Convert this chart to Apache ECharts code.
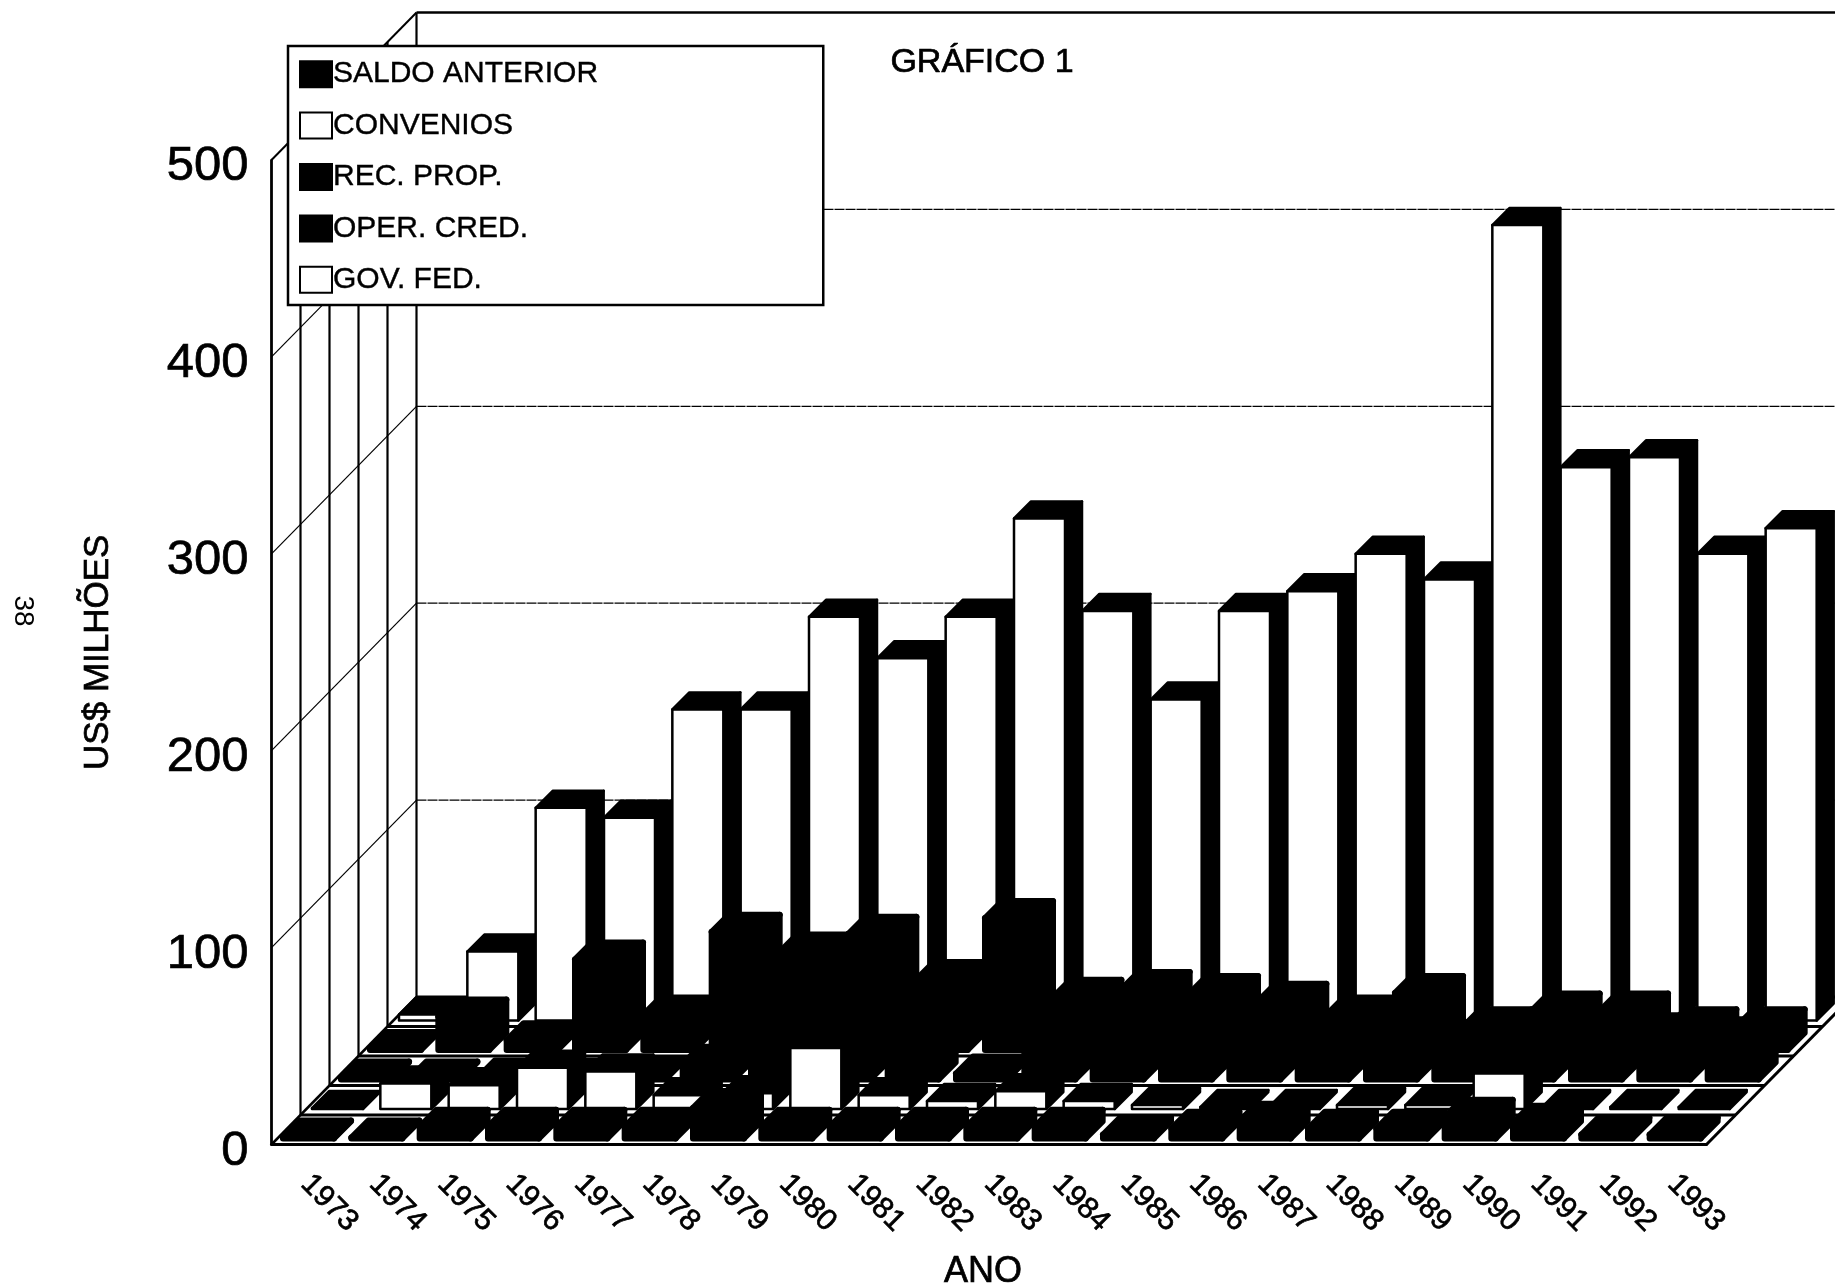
<!DOCTYPE html>
<html>
<head>
<meta charset="utf-8">
<style>
  html, body { margin: 0; padding: 0; background: #fff; }
  #chart { width: 1835px; height: 1286px; }
</style>
<script src="https://cdn.jsdelivr.net/npm/echarts@6/dist/echarts.min.js"></script>
</head>
<body>
<div id="chart"></div>
<script>
const years = ['1973','1974','1975','1976','1977','1978','1979','1980','1981','1982','1983','1984','1985','1986','1987','1988','1989','1990','1991','1992','1993']
const yTicks = [100, 200, 300, 400, 500]

// front row to back row
const saldoAnterior = [0.5,0.5,6,6,6,6,15.5,6,6,6,6,6,2,5,9,5,5,11,8,2,2]
const convenios = [0.5,13,12,21,19,7,8,31,7,4,9,4,2,1,1,2,2,18,1,1,1]
const recProp = [0.5,0.5,1,1,2,8,30,28,30,3,22,25,22,22,20,22,18,20,22,24,22]
const operCred = [0.5,17,5,46,18,60,50,59,36,67,27,31,29,25,18,29,12,20,20,12,12]
const govFed = [3,35,108,103,158,158,205,184,205,255,208,163,208,218,237,224,404,281,286,237,250]

const rows = [
  { name: 'SALDO ANTERIOR', data: saldoAnterior, face: '#000' },
  { name: 'CONVENIOS', data: convenios, face: '#fff' },
  { name: 'REC. PROP.', data: recProp, face: '#000' },
  { name: 'OPER. CRED.', data: operCred, face: '#000' },
  { name: 'GOV. FED.', data: govFed, face: '#fff' }
]

// 3d look: each row is shifted up and right by this much
const rowDX = 29
const rowDY = 29.5
const barDepth = 17
const barInset = 6
const faceWidth = 51
const faceGap = 5.5

const poly = (points, fill, lineWidth) => ({
  type: 'polygon',
  shape: { points },
  style: { fill, stroke: '#000', lineWidth, lineJoin: 'round' }
})
const seg = (x1, y1, x2, y2, lineWidth, dash) => ({
  type: 'line',
  shape: { x1, y1, x2, y2 },
  style: { stroke: '#000', lineWidth, lineDash: dash || null }
})

const renderBar = (rowIndex, face) => (params, api) => {
  const band = api.size([1, 0])[0]
  const base = api.coord([api.value(0), 0])
  const top = api.coord([api.value(0), api.value(1)])
  const x0 = base[0] - band / 2 + faceGap + rowIndex * rowDX + barInset
  const x1 = x0 + faceWidth
  const yb = base[1] - rowIndex * rowDY - barInset
  const yt = top[1] - rowIndex * rowDY - barInset
  // scanned print: ink spreads over the small white corners of the dark bars
  const ink = face === '#000' ? 6 : 2.5
  return {
    type: 'group',
    children: [
      poly([[x1, yb], [x1 + barDepth, yb - barDepth], [x1 + barDepth, yt - barDepth], [x1, yt]], '#000', ink),
      poly([[x0, yt], [x1, yt], [x1 + barDepth, yt - barDepth], [x0 + barDepth, yt - barDepth]], '#000', ink),
      poly([[x0, yb], [x1, yb], [x1, yt], [x0, yt]], face, ink)
    ]
  }
}

// left wall, back wall and floor lines
const renderWalls = (params, api) => {
  const band = api.size([1, 0])[0]
  const depthX = rowDX * rows.length
  const depthY = rowDY * rows.length
  const left = api.coord([0, api.value(0)])
  const xl = left[0] - band / 2
  const xr = api.coord([years.length - 1, 0])[0] + band / 2
  const y = left[1]
  const isTop = api.value(0) === 500
  const children = [
    seg(xl, y, xl + depthX, y - depthY, isTop ? 2 : 1.2),
    seg(xl + depthX, y - depthY, xr + depthX, y - depthY, isTop ? 2.5 : 1.2, isTop ? null : [10, 1])
  ]
  if (isTop) {
    const y0 = api.coord([0, 0])[1]
    for (let r = 0; r <= rows.length; r++) {
      const dx = r * rowDX
      const dy = r * rowDY
      children.push(seg(xl + dx, y0 - dy, xl + dx, y - dy, 2.2))
      if (r > 0) children.push(seg(xl + dx, y0 - dy, xr + dx, y0 - dy, 3))
    }
    children.push(seg(xl, y0, xl + depthX, y0 - depthY, 2.5))
    children.push(seg(xr, y0, xr + depthX, y0 - depthY, 3))
  }
  return { type: 'group', children }
}

const barSeries = rows.map((row, i) => ({
  name: row.name,
  type: 'custom',
  coordinateSystem: 'cartesian2d',
  z: 10 - i,
  silent: true,
  itemStyle: { color: row.face, borderColor: '#000', borderWidth: 3.5 },
  encode: { x: 0, y: 1 },
  data: row.data.map((v, k) => [k, v]),
  renderItem: renderBar(i, row.face)
}))

const myChart = echarts.init(document.getElementById('chart'), null, { renderer: 'canvas' })
const font = '"Liberation Sans", Arial, sans-serif'
const heavy = { textBorderColor: '#000', textBorderWidth: 0.7 }
myChart.setOption({
  animation: false,
  backgroundColor: '#fff',
  title: {
    text: 'GRÁFICO 1',
    left: 977,
    top: 41,
    textAlign: 'center',
    textStyle: { fontFamily: font, fontSize: 34, fontWeight: 'normal', color: '#000', ...heavy }
  },
  legend: {
    orient: 'vertical',
    left: 288,
    top: 46,
    padding: [13, 225, 10, 11],
    itemGap: 21,
    itemWidth: 32,
    itemHeight: 26,
    z: 20,
    backgroundColor: '#fff',
    borderColor: '#000',
    borderWidth: 2.5,
    borderRadius: 0,
    icon: 'rect',
    selectedMode: false,
    textStyle: { fontFamily: font, fontSize: 30, color: '#000', padding: [0, 0, 0, -4], textBorderColor: '#000', textBorderWidth: 0.4 },
    data: rows.map(r => r.name)
  },
  grid: { left: 271.5, right: 128.5, top: 160, bottom: 141.5, outerBoundsMode: 'none' },
  xAxis: {
    type: 'category',
    data: years,
    name: 'ANO',
    nameLocation: 'middle',
    nameGap: 110,
    nameTextStyle: { fontFamily: font, fontSize: 36, color: '#000', padding: [0, 12, 0, 0], ...heavy },
    axisLine: { lineStyle: { color: '#000', width: 3 } },
    axisTick: { show: false },
    axisLabel: {
      rotate: -45,
      interval: 0,
      margin: 35,
      color: '#000',
      fontFamily: font,
      fontSize: 30,
      ...heavy
    },
    splitLine: { show: false }
  },
  yAxis: {
    type: 'value',
    min: 0,
    max: 500,
    interval: 100,
    name: 'US$ MILHÕES',
    nameLocation: 'middle',
    nameGap: 156,
    nameTextStyle: { fontFamily: font, fontSize: 35, color: '#000', ...heavy },
    axisLine: { show: true, lineStyle: { color: '#000', width: 2.5 } },
    axisTick: { show: false },
    axisLabel: { margin: 23, color: '#000', fontFamily: font, fontSize: 49, verticalAlign: 'top', lineHeight: 13, ...heavy },
    splitLine: { show: false }
  },
  graphic: [{
    type: 'text',
    x: 23,
    y: 611,
    rotation: -Math.PI / 2,
    style: { text: '38', fontFamily: font, fontSize: 28, fill: '#000', textAlign: 'center', textVerticalAlign: 'middle' }
  }],
  series: [{
    name: 'walls',
    type: 'custom',
    coordinateSystem: 'cartesian2d',
    z: 1,
    silent: true,
    encode: { y: 0 },
    data: yTicks.map(v => [v]),
    renderItem: renderWalls
  }, ...barSeries]
})
</script>
</body>
</html>
